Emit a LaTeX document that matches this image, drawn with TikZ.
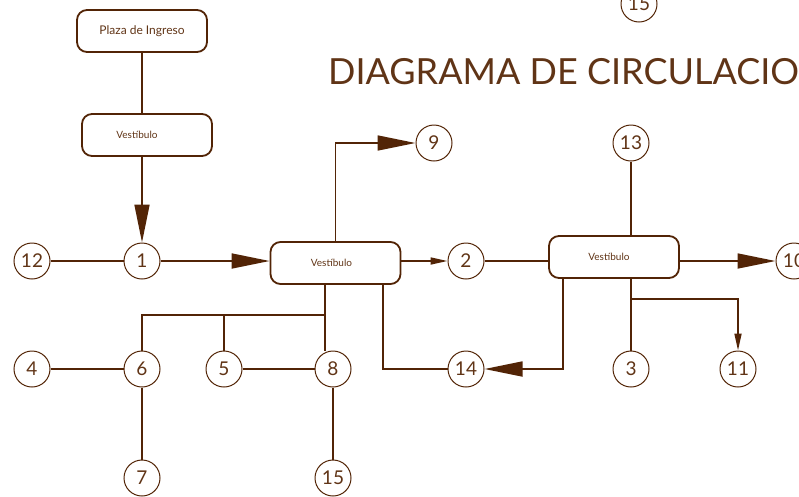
\documentclass[tikz,border=0pt]{standalone}
\usepackage{fontspec}
\setmainfont{Lato}
\usetikzlibrary{arrows.meta}
\definecolor{brn}{RGB}{82,36,6}
\definecolor{txt}{RGB}{96,52,22}
\begin{document}
\begin{tikzpicture}[x=1pt,y=-1pt,
  ink/.style={draw=brn, line width=1.7pt},
  box/.style={draw=brn, line width=1.8pt, rounded corners=10pt, minimum width=130pt,
    minimum height=42pt, inner sep=0pt, text=txt, font=\fontsize{10}{10}\selectfont},
  num/.style={circle, draw=brn, line width=1pt, minimum size=36pt, inner sep=0pt,
    text=txt, font=\fontsize{19}{19}\selectfont},
  big/.style={-{Triangle[length=38pt,width=15pt]}},
  small/.style={-{Triangle[length=17pt,width=7pt]}}
]
\useasboundingbox (0,0) rectangle (799,496);
\clip (0,0) rectangle (799,496);

% title
\node[anchor=base west, inner sep=0pt, text=txt, font=\fontsize{36}{36}\selectfont]
  (title) at (328,84) {DIAGRAMA DE CIRCULACIO};

% boxes (trailing space pushes the label a little left of centre)
\node[box, font=\fontsize{12}{12}\selectfont] (plaza) at (142,31) {Plaza de Ingreso};
\node[box] (v1) at (147,135) {Vestíbulo\hspace*{20pt}};
\node[box] (v2) at (335.5,263) {Vestíbulo\hspace*{8pt}};
\node[box] (v3) at (614,257) {Vestíbulo\hspace*{10pt}};

% numbered spaces
\node[num] (c1)  at (142,261) {1};
\node[num] (c12) at (32,261)  {12};
\node[num] (c2)  at (466,261) {2};
\node[num] (c9)  at (434,143) {9};
\node[num] (c13) at (631,143) {13};
\node[num] (c10) at (794,261) {10};
\node[num] (c3)  at (631,369) {3};
\node[num] (c11) at (738,369) {11};
\node[num] (c14) at (466,369) {14};
\node[num] (c4)  at (32,369)  {4};
\node[num] (c6)  at (142,369) {6};
\node[num] (c5)  at (224,369) {5};
\node[num] (c8)  at (333,369) {8};
\node[num] (c7)  at (142,478) {7};
\node[num] (c15) at (333,478) {15};
\node[num] (c15b) at (639,4)  {15};

% junction points
\coordinate (t)   at (325,315);
\coordinate (d8)  at (325,284);
\coordinate (d2)  at (383,284);
\coordinate (d14) at (563,278);
\coordinate (j11) at (631,299);

% connectors
\draw[ink] (plaza.south) -- (plaza.south |- v1.north);
\draw[ink,big] (c1 |- v1.south) -- (c1.north);
\draw[ink] (c12.east) -- (c1.west);
\draw[ink,big] (c1.east) -- (v2.west |- c1);
\draw[ink,big] (v2.north) -- (v2.north |- c9) -- (c9.west);
\draw[ink,small] (v2.east |- c2) -- (c2.west);
\draw[ink] (c2.east) -- (v3.west |- c2);
\draw[ink] (c13.south) -- (c13 |- v3.north);
\draw[ink,big] (v3.east |- c10) -- (c10.west);
\draw[ink] (c3 |- v3.south) -- (c3.north);
\draw[ink,small] (j11) -- (j11 -| c11) -- (c11.north);
\draw[ink,big] (d14) -- (d14 |- c14) -- (c14.east);
\draw[ink] (c14.west) -- (d2 |- c14) -- (d2);
\draw[ink] (d8) -- (d8 |- c8.north);
\draw[ink] (c6.north) -- (c6 |- t) -- (t);
\draw[ink] (c5.north) -- (c5 |- t);
\draw[ink] (c4.east) -- (c6.west);
\draw[ink] (c5.east) -- (c8.west);
\draw[ink] (c6.south) -- (c7.north);
\draw[ink] (c8.south) -- (c15.north);
\end{tikzpicture}
\end{document}
